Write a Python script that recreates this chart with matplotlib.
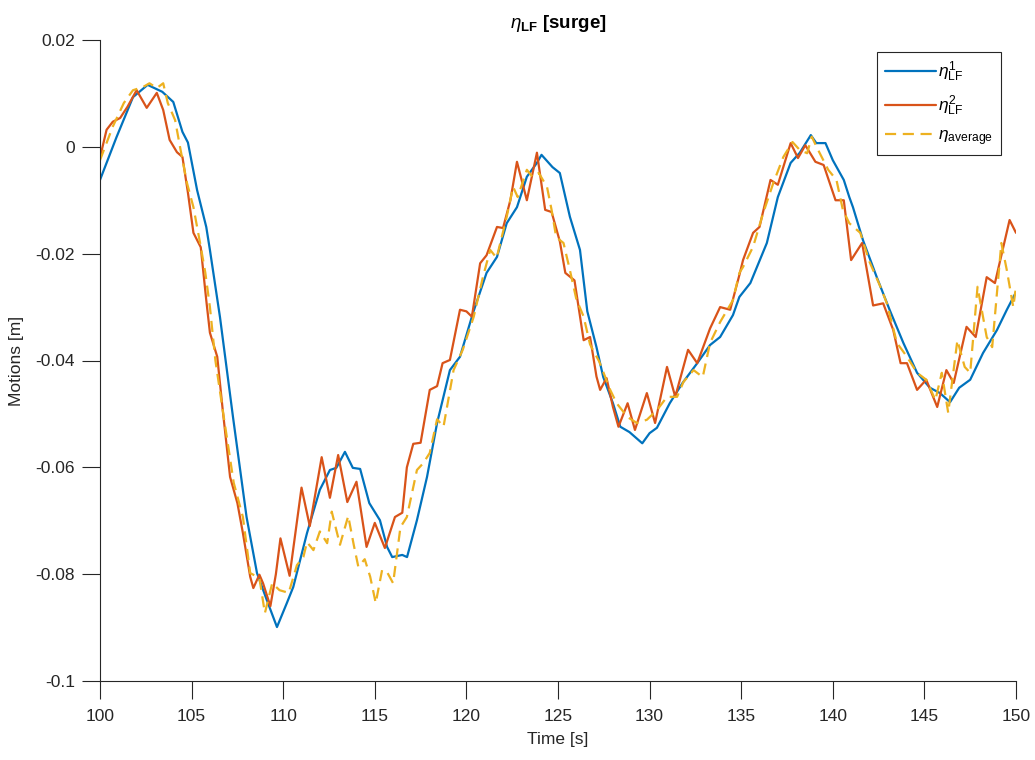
import matplotlib
matplotlib.use("Agg")
import matplotlib.pyplot as plt

# Low-frequency surge motion, two runs and their average
t_1 = [100.0, 100.9, 101.8, 102.6, 103.4, 104.0, 104.5, 104.8, 105.3, 105.8, 106.0, 106.55,
       107.26, 108.0, 108.57, 109.1, 109.66, 110.2, 110.55, 111.3, 112.0, 112.55, 112.9, 113.37,
       113.8, 114.2, 114.7, 115.28, 115.67, 115.95, 116.5, 116.76, 117.3, 117.85, 118.4, 119.1,
       119.65, 120.36, 121.1, 121.67, 122.2, 122.76, 123.3, 123.85, 124.1, 124.7, 125.1, 125.65,
       126.2, 126.6, 127.1, 127.47, 128.0, 128.4, 128.9, 129.6, 130.0, 130.4, 131.1, 131.8,
       132.6, 133.3, 133.85, 134.55, 134.9, 135.5, 136.4, 137.0, 137.7, 138.2, 138.8, 139.1,
       139.6, 140.0, 140.6, 140.9, 141.1, 141.65, 142.4, 143.1, 143.85, 144.6, 145.3, 145.85,
       146.4, 146.9, 147.5, 148.2, 148.96, 149.5, 150.0]
eta_1 = [-0.0062, 0.0018, 0.0093, 0.0116, 0.0103, 0.0084, 0.0028, 0.0008, -0.0081, -0.0150, -0.0193, -0.0319,
         -0.0506, -0.0693, -0.0798, -0.0848, -0.0899, -0.0854, -0.0824, -0.0723, -0.0642, -0.0605, -0.0601, -0.0571,
         -0.0601, -0.0603, -0.0667, -0.0699, -0.0749, -0.0768, -0.0764, -0.0768, -0.0699, -0.0618, -0.0517, -0.0418,
         -0.0393, -0.0311, -0.0236, -0.0206, -0.0143, -0.0113, -0.0056, -0.0030, -0.0015, -0.0038, -0.0049, -0.0131,
         -0.0193, -0.0308, -0.0375, -0.0431, -0.0480, -0.0524, -0.0534, -0.0555, -0.0536, -0.0526, -0.0480, -0.0442,
         -0.0405, -0.0371, -0.0356, -0.0315, -0.0281, -0.0255, -0.0180, -0.0094, -0.0030, -0.0011, 0.0022, 0.0007,
         0.0007, -0.0025, -0.0062, -0.0094, -0.0113, -0.0175, -0.0244, -0.0305, -0.0367, -0.0423, -0.0451, -0.0461,
         -0.0478, -0.0451, -0.0436, -0.0386, -0.0343, -0.0305, -0.0272]

t_2 = [100.0, 100.36, 100.7, 101.1, 101.5, 102.0, 102.55, 103.1, 103.45, 103.8, 104.2, 104.5,
       104.8, 105.1, 105.5, 105.8, 106.0, 106.4, 106.7, 107.1, 107.5, 107.8, 108.2, 108.37,
       108.7, 108.9, 109.3, 109.6, 109.85, 110.35, 111.0, 111.45, 112.1, 112.55, 113.0, 113.5,
       114.0, 114.55, 115.0, 115.55, 116.1, 116.5, 116.75, 117.1, 117.5, 118.0, 118.4, 118.7,
       119.1, 119.65, 120.0, 120.3, 120.75, 121.1, 121.67, 122.0, 122.4, 122.76, 123.3, 123.85,
       124.3, 124.65, 125.1, 125.4, 125.9, 126.4, 126.75, 127.1, 127.3, 127.65, 128.0, 128.3,
       128.8, 129.2, 129.85, 130.3, 130.95, 131.4, 132.1, 132.6, 133.3, 133.85, 134.4, 134.9,
       135.1, 135.65, 136.0, 136.6, 137.0, 137.7, 138.1, 138.5, 139.05, 139.5, 140.15, 140.6,
       141.0, 141.6, 142.2, 142.75, 143.3, 143.7, 144.05, 144.6, 145.1, 145.7, 146.2, 146.6,
       147.3, 147.8, 148.4, 148.85, 149.65, 150.0]
eta_2 = [-0.0020, 0.0032, 0.0047, 0.0054, 0.0075, 0.0106, 0.0073, 0.0101, 0.0069, 0.0013, -0.0010, -0.0019,
         -0.0086, -0.0161, -0.0188, -0.0287, -0.0348, -0.0393, -0.0493, -0.0618, -0.0667, -0.0723, -0.0805, -0.0826,
         -0.0801, -0.0817, -0.0860, -0.0800, -0.0733, -0.0803, -0.0638, -0.0710, -0.0581, -0.0657, -0.0577, -0.0665,
         -0.0627, -0.0749, -0.0704, -0.0751, -0.0693, -0.0685, -0.0600, -0.0556, -0.0554, -0.0455, -0.0448, -0.0405,
         -0.0399, -0.0305, -0.0308, -0.0318, -0.0218, -0.0203, -0.0150, -0.0152, -0.0100, -0.0028, -0.0100, -0.0011,
         -0.0118, -0.0122, -0.0177, -0.0236, -0.0250, -0.0362, -0.0356, -0.0430, -0.0455, -0.0433, -0.0487, -0.0524,
         -0.0480, -0.0530, -0.0461, -0.0517, -0.0412, -0.0468, -0.0380, -0.0405, -0.0340, -0.0300, -0.0305, -0.0240,
         -0.0212, -0.0161, -0.0150, -0.0062, -0.0071, 0.0007, -0.0021, 0.0003, -0.0028, -0.0034, -0.0100, -0.0100,
         -0.0212, -0.0180, -0.0297, -0.0293, -0.0343, -0.0405, -0.0405, -0.0455, -0.0436, -0.0487, -0.0418, -0.0442,
         -0.0337, -0.0356, -0.0244, -0.0255, -0.0137, -0.0161]

t_avg = [100.0, 100.7, 101.3, 101.8, 102.35, 102.7, 103.1, 103.45, 103.7, 104.1, 104.4, 104.75,
         105.1, 105.5, 105.75, 106.0, 106.3, 106.7, 107.3, 107.8, 108.2, 108.7, 109.0, 109.4,
         109.8, 110.3, 110.75, 111.1, 111.3, 111.65, 112.0, 112.4, 112.65, 113.1, 113.55, 113.85,
         114.1, 114.45, 114.75, 115.05, 115.4, 115.7, 116.0, 116.4, 116.75, 117.3, 117.65, 118.0,
         118.4, 118.75, 119.3, 119.8, 120.4, 120.9, 121.3, 121.65, 122.2, 122.55, 122.8, 123.3,
         123.6, 123.95, 124.4, 124.65, 124.9, 125.3, 125.65, 126.0, 126.4, 126.75, 127.25, 127.85,
         128.2, 128.8, 129.3, 129.85, 130.4, 130.95, 131.5, 131.85, 132.4, 132.9, 133.3, 133.85,
         134.55, 134.9, 135.1, 135.65, 136.2, 136.75, 137.3, 137.8, 138.2, 138.6, 138.85, 139.2,
         139.75, 140.2, 140.55, 140.9, 141.5, 142.0, 142.6, 142.95, 143.5, 144.05, 144.6, 145.1,
         145.6, 145.95, 146.3, 146.8, 147.2, 147.5, 147.9, 148.4, 148.7, 149.2, 149.5, 149.85, 150.0]
eta_avg = [-0.0025, 0.0038, 0.0082, 0.0106, 0.0112, 0.0119, 0.0110, 0.0119, 0.0082, 0.0050, -0.0006, -0.0068,
           -0.0113, -0.0187, -0.0236, -0.0300, -0.0400, -0.0493, -0.0629, -0.0693, -0.0798, -0.0807, -0.0873, -0.0817,
           -0.0830, -0.0835, -0.0783, -0.0768, -0.0740, -0.0755, -0.0720, -0.0742, -0.0683, -0.0745, -0.0691, -0.0745,
           -0.0786, -0.0772, -0.0805, -0.0854, -0.0792, -0.0798, -0.0817, -0.0712, -0.0693, -0.0605, -0.0592, -0.0573,
           -0.0510, -0.0524, -0.0418, -0.0380, -0.0318, -0.0244, -0.0193, -0.0208, -0.0131, -0.0075, -0.0094, -0.0043,
           -0.0056, -0.0049, -0.0075, -0.0118, -0.0169, -0.0180, -0.0231, -0.0285, -0.0318, -0.0370, -0.0402, -0.0455,
           -0.0480, -0.0506, -0.0517, -0.0511, -0.0493, -0.0468, -0.0468, -0.0440, -0.0418, -0.0431, -0.0367, -0.0328,
           -0.0287, -0.0236, -0.0225, -0.0187, -0.0124, -0.0068, -0.0019, 0.0009, -0.0006, -0.0012, 0.0019, -0.0006,
           -0.0043, -0.0062, -0.0118, -0.0143, -0.0161, -0.0215, -0.0262, -0.0293, -0.0367, -0.0393, -0.0423, -0.0436,
           -0.0474, -0.0423, -0.0498, -0.0362, -0.0412, -0.0423, -0.0262, -0.0356, -0.0375, -0.0180, -0.0231, -0.0300, -0.0262]

x_ticks = [100, 105, 110, 115, 120, 125, 130, 135, 140, 145, 150]
y_ticks = [-0.1, -0.08, -0.06, -0.04, -0.02, 0, 0.02]
y_tick_labels = ["-0.1", "-0.08", "-0.06", "-0.04", "-0.02", "0", "0.02"]

plt.rcParams["font.family"] = ["Liberation Sans", "DejaVu Sans"]
plt.rcParams["mathtext.fontset"] = "custom"
plt.rcParams["mathtext.rm"] = "Liberation Sans"
plt.rcParams["mathtext.it"] = "Liberation Sans:italic"
plt.rcParams["mathtext.bf"] = "Liberation Sans:bold"

axis_gray = "#262626"

fig = plt.figure(figsize=(10.35, 7.6), dpi=100)
ax = fig.add_axes([100 / 1035, 1 - 681 / 760, 916 / 1035, 641 / 760])

line_kw = dict(lw=1.6, solid_joinstyle="round", solid_capstyle="round")
ax.plot(t_1, eta_1, color="#0072BD", label=r"$\eta^{1}_{\mathrm{LF}}$", **line_kw)
ax.plot(t_2, eta_2, color="#D95319", label=r"$\eta^{2}_{\mathrm{LF}}$", **line_kw)
ax.plot(t_avg, eta_avg, color="#EDB120", lw=1.6, dashes=(5, 3),
        dash_joinstyle="round", label=r"$\eta_{\mathrm{average}}$")

ax.set_xlim(100, 150)
ax.set_ylim(-0.1, 0.02)
ax.set_xticks(x_ticks)
ax.set_yticks(y_ticks)
ax.set_yticklabels(y_tick_labels)

for side in ("top", "right"):
    ax.spines[side].set_visible(False)
for side in ("left", "bottom"):
    ax.spines[side].set_color(axis_gray)
    ax.spines[side].set_linewidth(0.8)
ax.tick_params(direction="out", length=13, width=0.8, colors=axis_gray,
               labelsize=12.5)
ax.tick_params(axis="y", pad=5)
ax.tick_params(axis="x", pad=7)

ax.set_xlabel("Time [s]", fontsize=12.5, color=axis_gray, labelpad=6)
ax.set_ylabel("Motions [m]", fontsize=12.5, color=axis_gray, labelpad=8)
ax.set_title(r"$\eta_{\mathbf{LF}}$ [surge]", fontsize=13.5, fontweight="bold",
             color="#000000", pad=9)

leg = ax.legend(loc="upper right", bbox_to_anchor=(1001 / 1035, 1 - 52 / 760),
                bbox_transform=fig.transFigure, fontsize=12.5, handlelength=2.9,
                handletextpad=0.15, borderpad=0.45, labelspacing=0.55,
                borderaxespad=0, fancybox=False, framealpha=1, edgecolor=axis_gray)
leg.get_frame().set_linewidth(0.8)

fig.savefig("out.png", dpi=100, facecolor="white")
